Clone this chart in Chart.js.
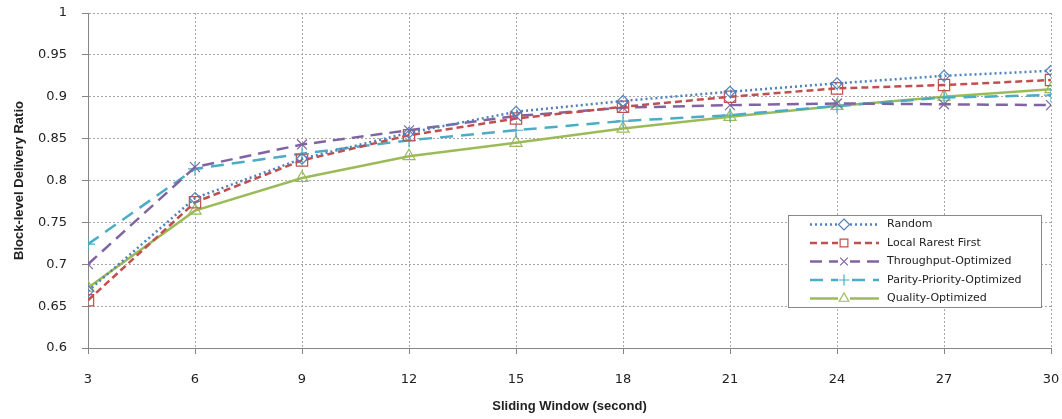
<!DOCTYPE html>
<html>
<head>
<meta charset="utf-8">
<title>Block-level Delivery Ratio</title>
<script src="https://cdn.jsdelivr.net/npm/chart.js@4/dist/chart.umd.min.js"></script>
<style>
  html, body { margin: 0; padding: 0; background: #fff; }
  #wrap { width: 1062px; height: 419px; }
</style>
</head>
<body>
<div id="wrap"><canvas id="chart" width="1062" height="419"></canvas></div>
<script>
// sliding window sizes (seconds)
const windows = [3, 6, 9, 12, 15, 18, 21, 24, 27, 30];

const random      = [0.668, 0.779, 0.826, 0.857, 0.882, 0.895, 0.906, 0.916, 0.925, 0.931];
const localRarest = [0.657, 0.774, 0.824, 0.854, 0.874, 0.888, 0.900, 0.910, 0.914, 0.920];
const throughput  = [0.700, 0.816, 0.843, 0.860, 0.877, 0.887, 0.890, 0.892, 0.891, 0.890];
const parity      = [0.724, 0.814, 0.832, 0.848, 0.860, 0.871, 0.878, 0.889, 0.899, 0.902];
const quality     = [0.672, 0.764, 0.803, 0.829, 0.845, 0.862, 0.876, 0.889, 0.900, 0.909];

const yTicks = [0.6, 0.65, 0.7, 0.75, 0.8, 0.85, 0.9, 0.95, 1];

const pts = vals => vals.map((v, i) => ({ x: windows[i], y: v }));

const series = [
  { label: 'Random', data: random, color: '#4F81BD', dash: [2, 3], style: 'rectRot', r: 5.5 },
  { label: 'Local Rarest First', data: localRarest, color: '#C0504D', dash: [7, 4], style: 'rect', r: 8 },
  { label: 'Throughput-Optimized', data: throughput, color: '#8064A2', dash: [12, 7], style: 'crossRot', r: 7 },
  { label: 'Parity-Priority-Optimized', data: parity, color: '#4BACC6', dash: [13, 8], style: 'cross', r: 7 },
  { label: 'Quality-Optimized', data: quality, color: '#9BBB59', dash: [], style: 'triangle', r: 7 }
];

// small marker for the legend rows (same shapes as the points)
function marker(ctx, style, r, x, y) {
  const h = r * Math.SQRT1_2;
  ctx.beginPath();
  if (style === 'rectRot') {
    ctx.moveTo(x, y - r); ctx.lineTo(x + r, y); ctx.lineTo(x, y + r); ctx.lineTo(x - r, y); ctx.closePath();
  } else if (style === 'rect') {
    ctx.rect(x - h, y - h, 2 * h, 2 * h);
  } else if (style === 'crossRot') {
    ctx.moveTo(x - h, y - h); ctx.lineTo(x + h, y + h); ctx.moveTo(x + h, y - h); ctx.lineTo(x - h, y + h);
  } else if (style === 'cross') {
    ctx.moveTo(x, y - r); ctx.lineTo(x, y + r); ctx.moveTo(x - r, y); ctx.lineTo(x + r, y);
  } else if (style === 'triangle') {
    const s = r * 1.5 / Math.sqrt(3) * 1.5;
    ctx.moveTo(x, y - r); ctx.lineTo(x + r * 0.87, y + r * 0.5); ctx.lineTo(x - r * 0.87, y + r * 0.5); ctx.closePath();
  }
  ctx.stroke();
}

// legend drawn inside the plot, lower right
const boxLegend = {
  id: 'boxLegend',
  afterDraw(chart) {
    const ctx = chart.ctx;
    const x0 = 788, y0 = 215, w = 253, h = 92;
    ctx.save();
    ctx.fillStyle = '#fff';
    ctx.fillRect(x0, y0, w, h);
    ctx.strokeStyle = '#888';
    ctx.lineWidth = 1;
    ctx.setLineDash([]);
    ctx.strokeRect(x0 + 0.5, y0 + 0.5, w, h);
    chart.data.datasets.forEach((ds, i) => {
      const y = y0 + 9.5 + i * 18.5;
      ctx.strokeStyle = ds.borderColor;
      ctx.lineWidth = ds.borderWidth;
      ctx.setLineDash(ds.borderDash);
      ctx.beginPath();
      ctx.moveTo(810, y);
      ctx.lineTo(879, y);
      ctx.stroke();
      ctx.setLineDash([]);
      ctx.fillStyle = '#fff';
      ctx.fillRect(838, y - 5, 12, 10);
      ctx.lineWidth = 1.2;
      marker(ctx, ds.pointStyle, 5.5, 844, y);
      ctx.fillStyle = '#222';
      ctx.font = '11px "DejaVu Sans"';
      ctx.textBaseline = 'middle';
      ctx.textAlign = 'left';
      ctx.fillText(ds.label, 887, y);
    });
    ctx.restore();
  }
};

new Chart(document.getElementById('chart'), {
  type: 'line',
  data: {
    datasets: series.map(s => ({
      label: s.label,
      data: pts(s.data),
      borderColor: s.color,
      backgroundColor: s.color,
      borderWidth: 2.5,
      borderDash: s.dash,
      pointStyle: s.style,
      pointRadius: s.r,
      pointHoverRadius: s.r,
      pointBorderWidth: 1.2,
      pointBorderColor: s.color,
      pointBackgroundColor: 'rgba(255,255,255,0)',
      tension: 0,
      fill: false
    }))
  },
  options: {
    responsive: false,
    animation: false,
    layout: { padding: { top: 13, right: 11, left: 0, bottom: 0 } },
    plugins: {
      legend: { display: false },
      tooltip: { enabled: false }
    },
    scales: {
      x: {
        type: 'linear',
        min: 3,
        max: 30,
        afterFit: s => { s.height = 71; s.paddingLeft = 0; s.paddingRight = 0; },
        ticks: {
          stepSize: 3,
          padding: 18,
          color: '#222',
          font: { family: 'DejaVu Sans', size: 13 }
        },
        grid: { color: '#a6a6a6', tickColor: '#868686', tickLength: 6, tickBorderDash: [] },
        border: { color: '#868686', width: 1, dash: [2, 2] },
        title: {
          display: true,
          text: 'Sliding Window (second)',
          color: '#222',
          font: { family: 'Liberation Sans', size: 13, weight: 'bold' },
          padding: { top: 0, bottom: 5 }
        }
      },
      y: {
        min: 0.6,
        max: 1,
        afterFit: s => { s.width = 88; s.paddingTop = 0; s.paddingBottom = 0; },
        afterBuildTicks: s => { s.ticks = yTicks.map(v => ({ value: v })); },
        ticks: {
          padding: 15,
          color: '#222',
          font: { family: 'DejaVu Sans', size: 13 },
          callback: v => String(Math.round(v * 100) / 100)
        },
        grid: { color: '#a6a6a6', tickColor: '#868686', tickLength: 6, tickBorderDash: [] },
        border: { color: '#868686', width: 1, dash: [2, 2] },
        title: {
          display: true,
          text: 'Block-level Delivery Ratio',
          color: '#222',
          font: { family: 'Liberation Sans', size: 13, weight: 'bold' },
          padding: { top: 12, bottom: 0 }
        }
      }
    }
  },
  plugins: [boxLegend]
});
</script>
</body>
</html>
